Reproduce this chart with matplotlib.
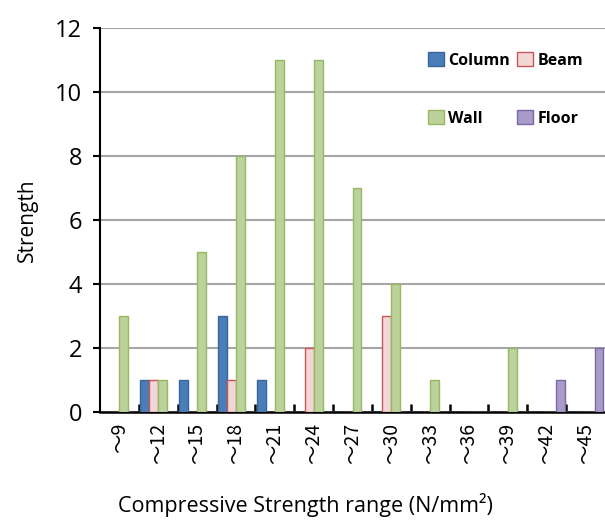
import matplotlib.pyplot as plt
import numpy as np

cats = ['〜9', '〜12', '〜15', '〜18', '〜21', '〜24', '〜27', '〜30', '〜33', '〜36', '〜39', '〜42', '〜45']
column = [0, 1, 1, 3, 1, 0, 0, 0, 0, 0, 0, 0, 0]
beam = [0, 1, 0, 1, 0, 2, 0, 3, 0, 0, 0, 0, 0]
wall = [3, 1, 5, 8, 11, 11, 7, 4, 1, 0, 2, 0, 0]
floor = [0, 0, 0, 0, 0, 0, 0, 0, 0, 0, 0, 1, 2]

series = [('Column', column, '#4a7ebb', '#3a659a'),
          ('Beam', beam, '#f2d7d7', '#c9575a'),
          ('Wall', wall, '#bcd29b', '#98b865'),
          ('Floor', floor, '#a89bc9', '#7d66a6')]

plt.rcParams['font.family'] = ['Open Sans', 'Noto Sans CJK JP', 'DejaVu Sans']

fig = plt.figure(figsize=(6.05, 5.2), dpi=100)
ax = fig.add_axes([100/605, 108/520, 505/605, 384/520])

x = np.arange(len(cats))
w = 0.23
handles = []
for i, (name, vals, fc, ec) in enumerate(series):
    h = ax.bar(x + (i - 1.5) * w, vals, w, color=fc, edgecolor=ec, linewidth=1, label=name, zorder=3)
    handles.append(h)

ax.set_xlim(-0.5, len(cats) - 0.5)
ax.set_ylim(0, 12)
ax.set_yticks(range(0, 13, 2))
ax.yaxis.grid(True, color='#a6a6a6', linewidth=1.5, zorder=0)
ax.set_axisbelow(True)

for s in ['top', 'right']:
    ax.spines[s].set_visible(False)
ax.spines['left'].set_linewidth(1.5)
ax.spines['bottom'].set_linewidth(1.8)

ax.set_xticks(x)
ax.set_xticklabels(cats, rotation=90, fontsize=14, family=['Noto Sans CJK JP'])
ax.set_xticks(np.arange(0.5, len(cats) - 0.5), minor=True)
ax.tick_params(axis='x', which='major', length=0, pad=8)
ax.tick_params(axis='x', which='minor', direction='in', length=6, width=1.8)
ax.tick_params(axis='y', direction='out', length=5, width=1.5, labelsize=17, pad=8)

ax.set_ylabel('Strength', fontsize=15, labelpad=12)
ax.set_xlabel('Compressive Strength range (N/mm²)', fontsize=15.5)
ax.xaxis.set_label_coords(0.406, -0.21)

# column-first fill: Column, Wall | Beam, Floor
order = [handles[0], handles[2], handles[1], handles[3]]
leg = ax.legend(handles=order, ncol=2, loc='upper right', bbox_to_anchor=(0.985, 0.975),
                frameon=False, prop={'weight': 'bold', 'size': 11.5},
                handlelength=1.0, handleheight=1.0, handletextpad=0.25,
                columnspacing=0.5, labelspacing=2.6)

fig.savefig('out.png', dpi=100)
